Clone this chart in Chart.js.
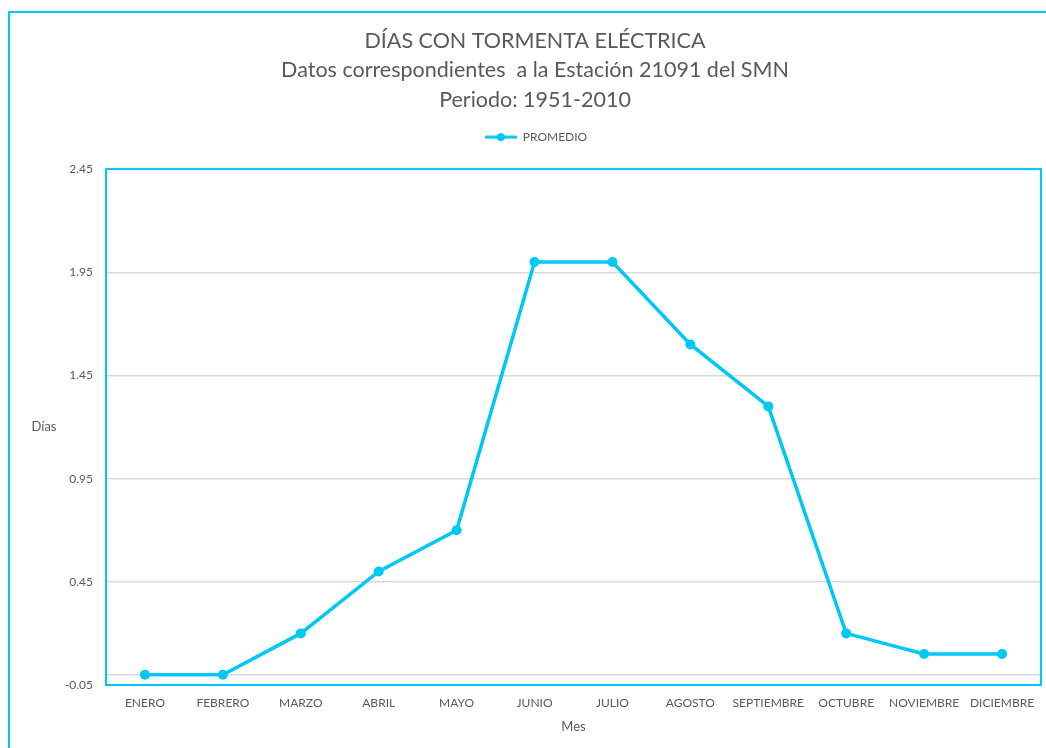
<!DOCTYPE html>
<html>
<head>
<meta charset="utf-8">
<script src="https://cdn.jsdelivr.net/npm/chart.js@4/dist/chart.umd.min.js"></script>
<style>
  html, body { margin: 0; padding: 0; background: #fff; }
  #wrap { width: 1046px; height: 748px; position: relative; }
</style>
</head>
<body>
<div id="wrap"><canvas id="myLineChart"></canvas></div>
<script>
// Datos
var meses = ['ENERO', 'FEBRERO', 'MARZO', 'ABRIL', 'MAYO', 'JUNIO', 'JULIO', 'AGOSTO', 'SEPTIEMBRE', 'OCTUBRE', 'NOVIEMBRE', 'DICIEMBRE'];
var promedio = [0.0, 0.0, 0.2, 0.5, 0.7, 2.0, 2.0, 1.6, 1.3, 0.2, 0.1, 0.1];
var yTicks = [-0.05, 0.45, 0.95, 1.45, 1.95, 2.45];

var cyan = '#00C8F5';
var gris = '#595959';
var fontFam = 'Lato, "Open Sans", sans-serif';

// marcador de la leyenda: linea con punto
function legendMarker() {
    var c = document.createElement('canvas');
    c.width = 32; c.height = 10;
    var g = c.getContext('2d');
    g.strokeStyle = cyan;
    g.lineWidth = 3;
    g.beginPath(); g.moveTo(0, 5); g.lineTo(32, 5); g.stroke();
    g.fillStyle = cyan;
    g.beginPath(); g.arc(16, 5, 4, 0, Math.PI * 2); g.fill();
    return c;
}

var framePlugin = {
    id: 'frame',
    beforeInit: function (chart) {
        // espacio extra debajo de la leyenda
        var fit = chart.legend.fit;
        chart.legend.fit = function () {
            fit.bind(chart.legend)();
            this.height += 16;
        };
    },
    afterLayout: function (chart) {
        // el grafico original esta centrado un poco mas a la derecha
        chart.titleBlock.left += 24;
        chart.legend.left += 26;
    },
    beforeDraw: function (chart) {
        var ctx = chart.ctx;
        ctx.save();
        ctx.strokeStyle = cyan;
        ctx.lineWidth = 2;
        ctx.beginPath();
        ctx.moveTo(9, chart.height + 5);
        ctx.lineTo(9, 12);
        ctx.lineTo(chart.width + 5, 12);
        ctx.stroke();
        ctx.restore();
    },
    beforeDatasetsDraw: function (chart) {
        var ctx = chart.ctx, a = chart.chartArea;
        var y0 = chart.scales.y.getPixelForValue(0);
        ctx.save();
        ctx.strokeStyle = '#d9d9d9';
        ctx.lineWidth = 1.5;
        ctx.beginPath(); ctx.moveTo(a.left, y0); ctx.lineTo(a.right, y0); ctx.stroke();
        ctx.strokeStyle = cyan;
        ctx.lineWidth = 2;
        ctx.strokeRect(a.left, a.top, a.right - a.left, a.bottom - a.top);
        // titulo del eje Y horizontal
        ctx.fillStyle = gris;
        ctx.font = '13px ' + fontFam;
        ctx.textAlign = 'center';
        ctx.textBaseline = 'middle';
        ctx.fillText('Días', 44, (a.top + a.bottom) / 2);
        ctx.restore();
    }
};

var ctx = document.getElementById('myLineChart').getContext('2d');
var myLineChart = new Chart(ctx, {
    type: 'line',
    data: {
        labels: meses,
        datasets: [{
            label: 'PROMEDIO',
            data: promedio,
            borderColor: cyan,
            backgroundColor: cyan,
            borderWidth: 3.5,
            pointRadius: 5,
            pointHoverRadius: 5,
            pointBackgroundColor: cyan,
            pointBorderWidth: 0,
            tension: 0
        }]
    },
    options: {
        responsive: true,
        maintainAspectRatio: false,
        animation: false,
        layout: { padding: { left: 0, right: 0, top: 0, bottom: 13 } },
        plugins: {
            title: {
                display: true,
                text: ['DÍAS CON TORMENTA ELÉCTRICA', 'Datos correspondientes  a la Estación 21091 del SMN', 'Periodo: 1951-2010'],
                color: gris,
                font: { family: fontFam, size: 21.5, weight: 'normal', lineHeight: 1.35 },
                padding: { top: 27, bottom: 7 }
            },
            legend: {
                display: true,
                labels: {
                    color: gris,
                    font: { family: fontFam, size: 12 },
                    usePointStyle: true,
                    pointStyleWidth: 32,
                    boxHeight: 10,
                    generateLabels: function (chart) {
                        var items = Chart.defaults.plugins.legend.labels.generateLabels(chart);
                        items.forEach(function (it) { it.pointStyle = legendMarker(); it.lineWidth = 0; });
                        return items;
                    }
                },
                padding: 10
            },
            tooltip: { enabled: false }
        },
        scales: {
            x: {
                offset: true,
                grid: { display: false, drawTicks: false },
                border: { display: false },
                ticks: { color: gris, font: { family: fontFam, size: 12 }, padding: 11, maxRotation: 0, autoSkip: false },
                title: { display: true, text: 'Mes', color: gris, font: { family: fontFam, size: 13 }, padding: { top: -2, bottom: 0 } }
            },
            y: {
                min: -0.05,
                max: 2.45,
                afterFit: function (scale) { scale.width = 106; },
                afterBuildTicks: function (scale) {
                    scale.ticks = yTicks.map(function (v) { return { value: v }; });
                },
                grid: { color: '#d9d9d9', lineWidth: 1.5, drawTicks: false },
                border: { display: false },
                ticks: {
                    color: gris,
                    font: { family: fontFam, size: 12 },
                    padding: 13,
                    callback: function (v) { return Number(v).toFixed(2); }
                }
            }
        }
    },
    plugins: [framePlugin]
});
</script>
</body>
</html>
